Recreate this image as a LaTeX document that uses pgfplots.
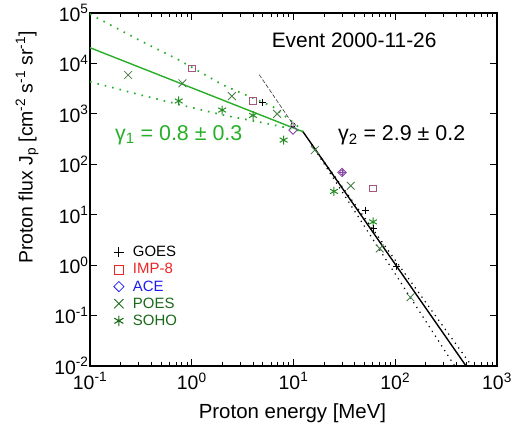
\documentclass[border=0pt]{standalone}
\usepackage{fontspec}
\setmainfont{Liberation Sans}
\usepackage{pgfplots}
\pgfplotsset{compat=1.18}

\definecolor{fitgreen}{RGB}{40,175,40}
\definecolor{poesc}{RGB}{70,125,70}
\definecolor{sohoc}{RGB}{35,140,35}
\definecolor{impc}{RGB}{165,85,125}
\definecolor{acec}{RGB}{135,70,165}
\definecolor{legred}{RGB}{235,35,35}
\definecolor{legblue}{RGB}{30,30,240}
\definecolor{leggreen}{RGB}{25,105,25}

\begin{document}
\begin{tikzpicture}
\begin{axis}[
  name=ax,
  scale only axis, width=407bp, height=353bp,
  xmode=log, ymode=log,
  xmin=0.1, xmax=1000, ymin=0.01, ymax=1e5,
  xtick={0.1,1,10,100,1000},
  xticklabels={10\textsuperscript{-1},10\textsuperscript{0},10\textsuperscript{1},10\textsuperscript{2},10\textsuperscript{3}},
  ytick={1e-2,1e-1,1,10,100,1000,1e4,1e5},
  yticklabels={10\textsuperscript{-2},10\textsuperscript{-1},10\textsuperscript{0},10\textsuperscript{1},10\textsuperscript{2},10\textsuperscript{3},10\textsuperscript{4},10\textsuperscript{5}},
  yminorticks=false,
  tick align=inside,
  major tick length=7bp, minor tick length=4bp,
  axis line style={line width=1.1bp},
  every tick/.style={black, line width=0.8bp},
  tick label style={font=\fontsize{19.5}{20}\selectfont},
  xticklabel style={yshift=-3bp},
  yticklabel style={xshift=2bp},
  xlabel={Proton energy [MeV]},
  ylabel={Proton flux J\textsubscript{p} [cm\textsuperscript{-2} s\textsuperscript{-1} sr\textsuperscript{-1}]},
  every axis x label/.style={at={(axis description cs:0.4975,-0.150)}, anchor=base, font=\fontsize{20.5}{22}\selectfont},
  every axis y label/.style={at={(axis description cs:-0.1548,0.619)}, rotate=90, anchor=center, font=\fontsize{19.5}{22}\selectfont},
  legend image code/.code={\path[draw=none, fill=none] (-5bp,-5bp) rectangle (5bp,5bp); \draw[#1] plot coordinates {(0bp,0bp)};},
  legend style={at={(axis description cs:0.058,0.345)}, anchor=north west, draw=none, fill=none,
    font=\fontsize{15}{16}\selectfont, row sep=1.2bp, inner sep=0pt,
    /tikz/every odd column/.style={column sep=7bp}},
  legend cell align=left,
]
% legend entries
\addlegendimage{only marks, mark=+, black, mark size=5bp, line width=0.8bp}
\addlegendentry{GOES}
\addlegendimage{only marks, mark=square, legred, mark size=4.5bp, line width=0.8bp}
\addlegendentry{\textcolor{legred}{IMP-8}}
\addlegendimage{only marks, mark=square, mark options={rotate=45}, legblue, mark size=3.6bp, line width=0.8bp}
\addlegendentry{\textcolor{legblue}{ACE}}
\addlegendimage{only marks, mark=x, leggreen, mark size=6.5bp, line width=0.9bp}
\addlegendentry{\textcolor{leggreen}{POES}}
\addlegendimage{only marks, mark=asterisk, leggreen, mark size=5.2bp, line width=1.1bp}
\addlegendentry{\textcolor{leggreen}{SOHO}}

% green fit (gamma1) and its band
\addplot[forget plot, fitgreen, line width=1.4bp] coordinates {(0.1,20500) (12.4,442)};
\addplot[forget plot, fitgreen, line width=1.7bp, dash pattern=on 1.6bp off 6bp] coordinates {
(0.1,95000) (0.294,30100) (0.728,12060) (2.03,3726) (6.29,1383) (10.7,600) (12.4,445)};
\addplot[forget plot, fitgreen, line width=1.7bp, dash pattern=on 1.6bp off 6bp] coordinates {
(0.1,4335) (0.318,2360) (0.676,1615) (2.03,946) (5.42,646) (9.84,499) (12.4,445)};

% black fit (gamma2) and its band
\addplot[forget plot, black, line width=1.4bp] coordinates {(12.4,442) (500,0.0098)};
\addplot[forget plot, black, line width=1.2bp, dash pattern=on 1.2bp off 4.5bp] coordinates {(15,250) (565,0.01)};
\addplot[forget plot, black, line width=1.2bp, dash pattern=on 1.2bp off 4.5bp] coordinates {(15,250) (384,0.01)};
\addplot[forget plot, black!80, line width=0.6bp, dash pattern=on 4bp off 2bp] coordinates {(4.6,6000) (10,600)};

% data
\addplot[forget plot, only marks, mark=x, poesc, mark size=5.5bp, line width=0.8bp] coordinates {
(0.237,5900) (0.81,4030) (2.48,2250) (6.9,1000) (16.2,191) (36.5,37.5) (70.4,2.14) (141,0.23)};
\addplot[forget plot, only marks, mark=asterisk, sohoc, mark size=4.5bp, line width=1bp] coordinates {
(0.745,1800) (1.99,1190) (4.0,930) (8.0,302) (25,29) (60.5,7.2)};
\addplot[forget plot, only marks, mark=square, impc, mark size=3.3bp, line width=0.8bp] coordinates {
(1.0,7970) (4.0,1820) (60.5,33)};
\addplot[forget plot, only marks, mark=square, mark options={rotate=45}, acec, mark size=3bp, line width=0.8bp] coordinates {
(9.9,478) (30,69)};
\addplot[forget plot, only marks, mark=o, acec, mark size=2.3bp, line width=0.7bp] coordinates {(30,69)};
\addplot[forget plot, only marks, mark=+, acec, mark size=3.5bp, line width=0.7bp] coordinates {(30,69)};
\addplot[forget plot, only marks, mark=o, black, mark size=2.2bp, line width=0.6bp] coordinates {(9.9,600)};
\addplot[forget plot, only marks, mark=+, black, mark size=3.5bp, line width=0.7bp] coordinates {
(4.91,1690) (50.9,12.3) (60.5,5.4) (102.8,0.93)};

% annotations
\node[anchor=base, font=\fontsize{21}{24}\selectfont] at (rel axis cs:0.649,0.901) {Event 2000-11-26};
\node[anchor=base west, inner sep=0pt, text=fitgreen, font=\fontsize{21.5}{24}\selectfont] at (rel axis cs:0.0614,0.640) {γ\textsubscript{1} = 0.8 ± 0.3};
\node[anchor=base west, inner sep=0pt, font=\fontsize{21.5}{24}\selectfont] at (rel axis cs:0.609,0.638) {γ\textsubscript{2} = 2.9 ± 0.2};
\end{axis}
\pgfresetboundingbox
\useasboundingbox ([shift={(-90bp,-57bp)}]ax.south west) rectangle ([shift={(15bp,13bp)}]ax.north east);
\end{tikzpicture}
\end{document}
